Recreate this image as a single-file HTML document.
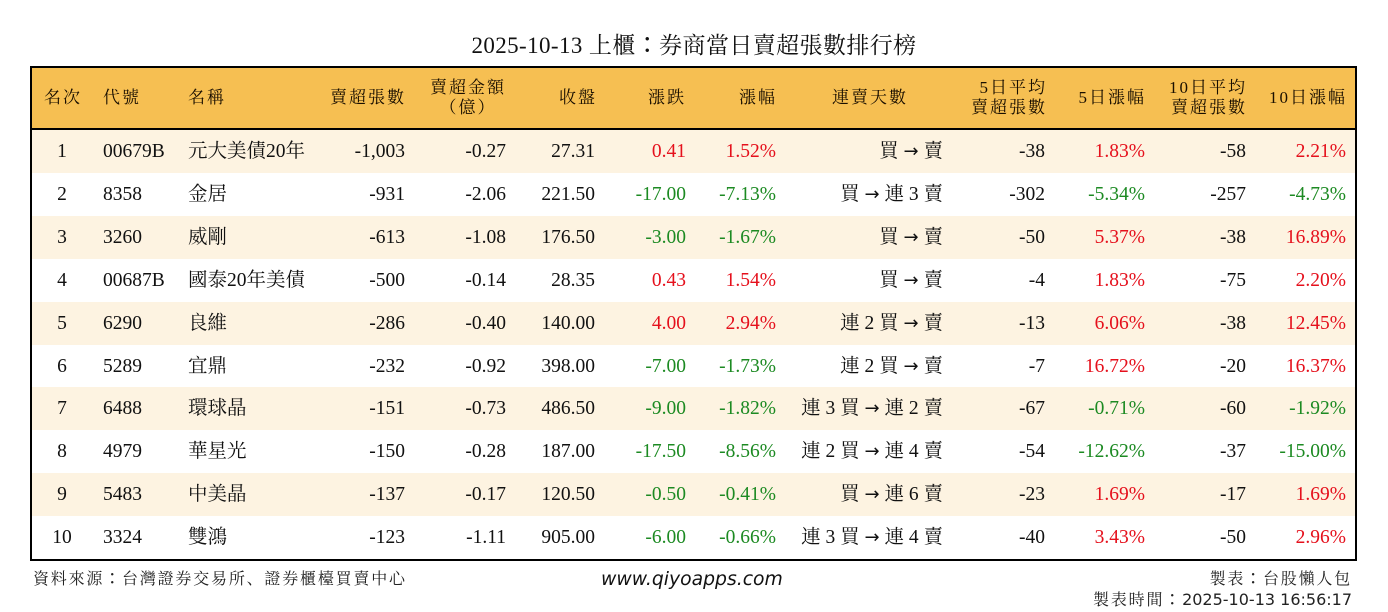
<!DOCTYPE html>
<html>
<head>
<meta charset="utf-8">
<style>
  html,body{margin:0;padding:0;background:#fff;}
  body{width:1388px;height:612px;position:relative;overflow:hidden;
       font-family:"Liberation Serif","Noto Serif CJK SC",serif;color:#111;}
  .title{position:absolute;left:0;width:1388px;top:27px;text-align:center;
         font-size:23px;line-height:32px;color:#111;white-space:nowrap;letter-spacing:0.4px;}
  .col{font-family:"Noto Sans CJK TC",sans-serif;}
  .tbl{position:absolute;left:30px;top:66px;width:1323px;height:491px;
       border:2px solid #000;background:#fff;}
  .hdr{position:absolute;left:32px;top:68px;width:1323px;height:60px;background:#F6BF52;}
  .hline{position:absolute;left:32px;top:127.5px;width:1323px;height:2.5px;background:#000;}
  .hdr span{position:absolute;font-size:17px;letter-spacing:2px;line-height:60px;
            top:0;white-space:nowrap;color:#1a0f00;}
  .hdr span.two{line-height:20px;top:10px;}
  .row{position:absolute;left:32px;width:1323px;height:43px;}
  .row.o{background:#FDF3E1;}
  .row span{position:absolute;top:0;line-height:43px;font-size:19.5px;white-space:nowrap;}
  .row span.ar{position:static;font-family:"DejaVu Sans",sans-serif;font-size:18px;line-height:43px;}
  .rk{left:10px;width:40px;text-align:center;}
  .cd{left:71px;}
  .nm{left:156px;letter-spacing:0px;}
  .a{right:950px;}
  .b{right:849px;}
  .c{right:760px;}
  .d{right:669px;}
  .e{right:579px;}
  .f{right:412px;}
  .g{right:310px;}
  .h{right:210px;}
  .i{right:109px;}
  .j{right:9px;}
  .r{color:#E5101C;}
  .gr{color:#1C8A22;}
  .foot{position:absolute;font-size:16px;line-height:20px;white-space:nowrap;color:#222;
        font-family:"DejaVu Sans","Noto Serif CJK SC",serif;}
  .cj{font-family:"Noto Serif CJK SC",serif;letter-spacing:1.8px;}
  .web{position:absolute;left:601px;top:568px;font-family:"DejaVu Sans",sans-serif;
       font-style:italic;font-size:18.8px;line-height:24px;color:#111;white-space:nowrap;}
</style>
</head>
<body>
<div class="title">2025-10-13 上櫃<span class="col">：</span>券商當日賣超張數排行榜</div>

<div class="tbl"></div>
<div class="hdr">
  <span style="left:12px;">名次</span>
  <span style="left:71px;">代號</span>
  <span style="left:156px;">名稱</span>
  <span style="right:949px;">賣超張數</span>
  <span class="two" style="left:394px;width:84px;text-align:center;">賣超金額<br>（億）</span>
  <span style="right:758px;">收盤</span>
  <span style="right:669px;">漲跌</span>
  <span style="right:578px;">漲幅</span>
  <span style="left:800px;">連賣天數</span>
  <span class="two" style="right:308px;text-align:right;">5日平均<br>賣超張數</span>
  <span style="right:209px;">5日漲幅</span>
  <span class="two" style="right:108px;text-align:right;">10日平均<br>賣超張數</span>
  <span style="right:8px;">10日漲幅</span>
</div>
<div class="hline"></div>

<div class="row o" style="top:130px;">
  <span class="rk">1</span><span class="cd">00679B</span><span class="nm">元大美債20年</span>
  <span class="a">-1,003</span><span class="b">-0.27</span><span class="c">27.31</span>
  <span class="d r">0.41</span><span class="e r">1.52%</span><span class="f">買 <span class="ar">→</span> 賣</span>
  <span class="g">-38</span><span class="h r">1.83%</span><span class="i">-58</span><span class="j r">2.21%</span>
</div>
<div class="row" style="top:172.9px;">
  <span class="rk">2</span><span class="cd">8358</span><span class="nm">金居</span>
  <span class="a">-931</span><span class="b">-2.06</span><span class="c">221.50</span>
  <span class="d gr">-17.00</span><span class="e gr">-7.13%</span><span class="f">買 <span class="ar">→</span> 連 3 賣</span>
  <span class="g">-302</span><span class="h gr">-5.34%</span><span class="i">-257</span><span class="j gr">-4.73%</span>
</div>
<div class="row o" style="top:215.8px;">
  <span class="rk">3</span><span class="cd">3260</span><span class="nm">威剛</span>
  <span class="a">-613</span><span class="b">-1.08</span><span class="c">176.50</span>
  <span class="d gr">-3.00</span><span class="e gr">-1.67%</span><span class="f">買 <span class="ar">→</span> 賣</span>
  <span class="g">-50</span><span class="h r">5.37%</span><span class="i">-38</span><span class="j r">16.89%</span>
</div>
<div class="row" style="top:258.7px;">
  <span class="rk">4</span><span class="cd">00687B</span><span class="nm">國泰20年美債</span>
  <span class="a">-500</span><span class="b">-0.14</span><span class="c">28.35</span>
  <span class="d r">0.43</span><span class="e r">1.54%</span><span class="f">買 <span class="ar">→</span> 賣</span>
  <span class="g">-4</span><span class="h r">1.83%</span><span class="i">-75</span><span class="j r">2.20%</span>
</div>
<div class="row o" style="top:301.6px;">
  <span class="rk">5</span><span class="cd">6290</span><span class="nm">良維</span>
  <span class="a">-286</span><span class="b">-0.40</span><span class="c">140.00</span>
  <span class="d r">4.00</span><span class="e r">2.94%</span><span class="f">連 2 買 <span class="ar">→</span> 賣</span>
  <span class="g">-13</span><span class="h r">6.06%</span><span class="i">-38</span><span class="j r">12.45%</span>
</div>
<div class="row" style="top:344.5px;">
  <span class="rk">6</span><span class="cd">5289</span><span class="nm">宜鼎</span>
  <span class="a">-232</span><span class="b">-0.92</span><span class="c">398.00</span>
  <span class="d gr">-7.00</span><span class="e gr">-1.73%</span><span class="f">連 2 買 <span class="ar">→</span> 賣</span>
  <span class="g">-7</span><span class="h r">16.72%</span><span class="i">-20</span><span class="j r">16.37%</span>
</div>
<div class="row o" style="top:387.4px;">
  <span class="rk">7</span><span class="cd">6488</span><span class="nm">環球晶</span>
  <span class="a">-151</span><span class="b">-0.73</span><span class="c">486.50</span>
  <span class="d gr">-9.00</span><span class="e gr">-1.82%</span><span class="f">連 3 買 <span class="ar">→</span> 連 2 賣</span>
  <span class="g">-67</span><span class="h gr">-0.71%</span><span class="i">-60</span><span class="j gr">-1.92%</span>
</div>
<div class="row" style="top:430.3px;">
  <span class="rk">8</span><span class="cd">4979</span><span class="nm">華星光</span>
  <span class="a">-150</span><span class="b">-0.28</span><span class="c">187.00</span>
  <span class="d gr">-17.50</span><span class="e gr">-8.56%</span><span class="f">連 2 買 <span class="ar">→</span> 連 4 賣</span>
  <span class="g">-54</span><span class="h gr">-12.62%</span><span class="i">-37</span><span class="j gr">-15.00%</span>
</div>
<div class="row o" style="top:473.2px;">
  <span class="rk">9</span><span class="cd">5483</span><span class="nm">中美晶</span>
  <span class="a">-137</span><span class="b">-0.17</span><span class="c">120.50</span>
  <span class="d gr">-0.50</span><span class="e gr">-0.41%</span><span class="f">買 <span class="ar">→</span> 連 6 賣</span>
  <span class="g">-23</span><span class="h r">1.69%</span><span class="i">-17</span><span class="j r">1.69%</span>
</div>
<div class="row" style="top:516.1px;height:42.9px;">
  <span class="rk">10</span><span class="cd">3324</span><span class="nm">雙鴻</span>
  <span class="a">-123</span><span class="b">-1.11</span><span class="c">905.00</span>
  <span class="d gr">-6.00</span><span class="e gr">-0.66%</span><span class="f">連 3 買 <span class="ar">→</span> 連 4 賣</span>
  <span class="g">-40</span><span class="h r">3.43%</span><span class="i">-50</span><span class="j r">2.96%</span>
</div>

<div class="foot cj" style="left:33px;top:567px;">資料來源<span class="col">：</span>台灣證券交易所、證券櫃檯買賣中心</div>
<div class="web">www.qiyoapps.com</div>
<div class="foot cj" style="right:36px;top:567px;letter-spacing:1.8px;">製表<span class="col">：</span>台股懶人包</div>
<div class="foot" style="right:36px;top:588px;"><span class="cj">製表時間<span class="col">：</span></span>2025-10-13 16:56:17</div>
</body>
</html>
